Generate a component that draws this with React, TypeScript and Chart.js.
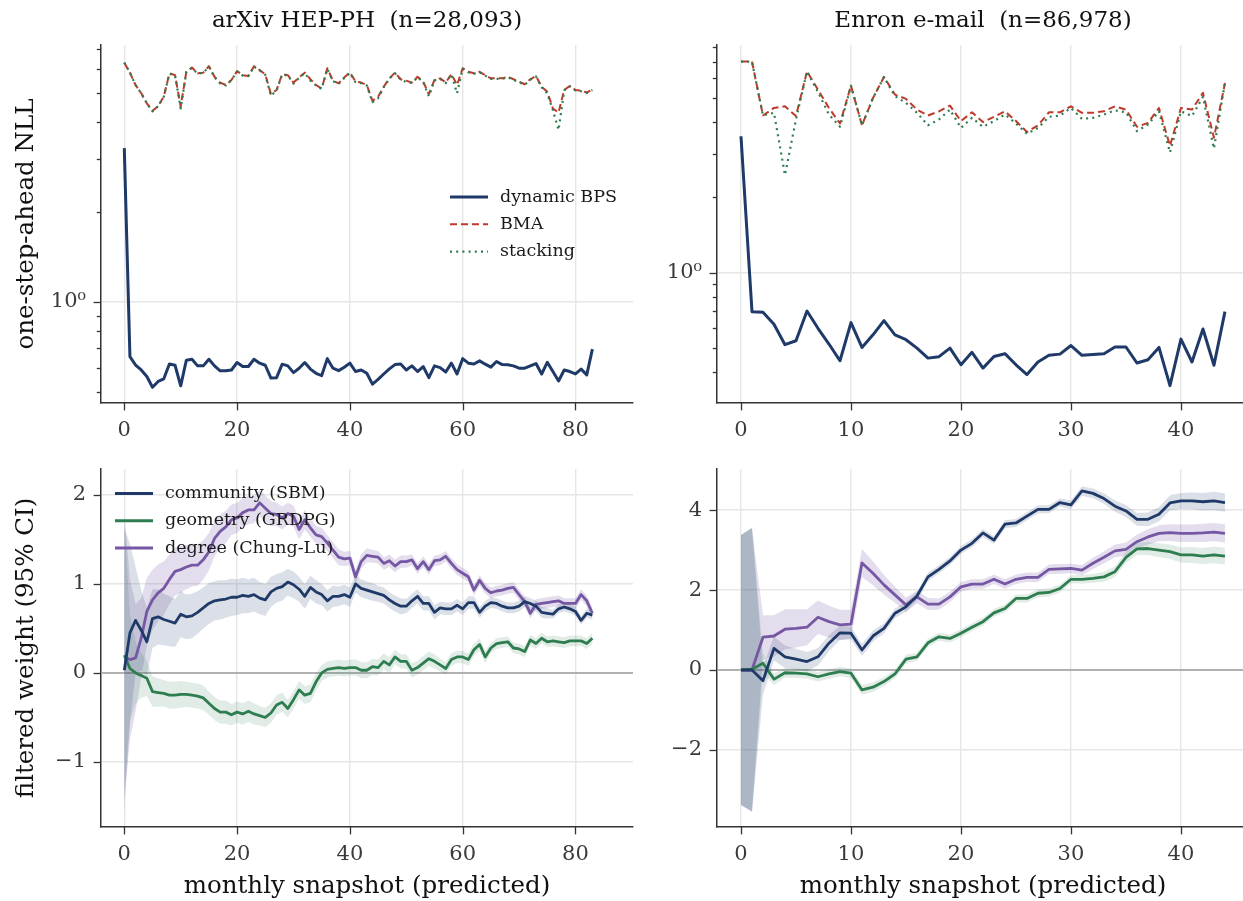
import React, { useEffect, useRef } from 'react';
import { Chart, registerables } from 'chart.js';
Chart.register(...registerables);

const W = 1243;
const H = 901;
const FONT = "'DejaVu Serif', 'Liberation Serif', serif";
const NAVY = '#1f3a68';
const RED = '#c0392b';
const GREEN = '#2e7d50';
const PURPLE = '#7557a3';
const SPINE = '#333333';
const GRID = '#e6e6e6';
const TICK_TEXT = '#3a3a3a';

// ---------------- data ----------------
const arxivBPS = [3.27, 0.656, 0.615, 0.592, 0.563, 0.518, 0.542, 0.553, 0.620, 0.614,
  0.524, 0.638, 0.643, 0.611, 0.611, 0.643, 0.611, 0.588, 0.588, 0.592,
  0.627, 0.608, 0.608, 0.643, 0.624, 0.614, 0.556, 0.558, 0.619, 0.611,
  0.580, 0.600, 0.627, 0.596, 0.577, 0.567, 0.646, 0.600, 0.589, 0.605,
  0.624, 0.585, 0.592, 0.577, 0.531, 0.551, 0.574, 0.597, 0.617, 0.620,
  0.592, 0.611, 0.585, 0.608, 0.558, 0.611, 0.603, 0.583, 0.624, 0.574,
  0.646, 0.624, 0.620, 0.635, 0.619, 0.605, 0.632, 0.617, 0.616, 0.611,
  0.600, 0.600, 0.611, 0.622, 0.574, 0.628, 0.585, 0.544, 0.592, 0.585,
  0.574, 0.596, 0.570, 0.695];
const arxivBMA = [6.32, 5.85, 5.32, 4.99, 4.62, 4.36, 4.52, 4.86, 5.82, 5.74,
  4.50, 5.89, 6.09, 5.82, 5.85, 6.15, 5.67, 5.42, 5.32, 5.53,
  5.92, 5.74, 5.70, 6.15, 5.97, 5.77, 4.96, 5.12, 5.79, 5.74,
  5.42, 5.64, 5.85, 5.56, 5.32, 5.18, 6.05, 5.50, 5.39, 5.64,
  5.86, 5.46, 5.42, 5.32, 4.71, 4.86, 5.25, 5.60, 5.85, 5.56,
  5.50, 5.42, 5.67, 5.46, 4.96, 5.53, 5.60, 5.42, 5.79, 5.32,
  6.05, 5.89, 5.82, 5.89, 5.74, 5.60, 5.60, 5.60, 5.67, 5.56,
  5.46, 5.35, 5.56, 5.70, 5.25, 5.05, 4.44, 4.30, 5.12, 5.28,
  5.12, 5.09, 5.02, 5.14];
const arxivStacking = [6.32, 5.85, 5.32, 4.99, 4.62, 4.34, 4.52, 4.86, 5.80, 5.72,
  4.44, 5.89, 6.07, 5.80, 5.85, 6.13, 5.65, 5.38, 5.30, 5.53,
  5.90, 5.72, 5.70, 6.13, 5.95, 5.75, 4.90, 5.10, 5.77, 5.72,
  5.38, 5.62, 5.83, 5.50, 5.30, 5.16, 6.03, 5.48, 5.37, 5.62,
  5.84, 5.44, 5.40, 5.30, 4.66, 4.80, 5.23, 5.58, 5.83, 5.54,
  5.44, 5.40, 5.65, 5.44, 4.88, 5.51, 5.58, 5.40, 5.77, 4.99,
  6.03, 5.87, 5.80, 5.87, 5.72, 5.58, 5.58, 5.58, 5.65, 5.54,
  5.44, 5.33, 5.54, 5.68, 5.23, 4.98, 4.38, 3.76, 5.10, 5.26,
  5.10, 5.07, 5.00, 5.12];

const enronBPS = [3.52, 0.697, 0.693, 0.621, 0.514, 0.533, 0.701, 0.598, 0.517, 0.443,
  0.630, 0.501, 0.563, 0.642, 0.563, 0.538, 0.498, 0.454, 0.460, 0.498,
  0.427, 0.479, 0.414, 0.461, 0.473, 0.427, 0.390, 0.438, 0.466, 0.471,
  0.510, 0.466, 0.469, 0.473, 0.503, 0.503, 0.434, 0.447, 0.501, 0.352,
  0.541, 0.438, 0.594, 0.425, 0.697];
const enronBMA = [7.01, 7.01, 4.26, 4.57, 4.64, 4.24, 6.40, 5.41, 4.57, 3.96,
  5.61, 3.89, 5.01, 6.08, 5.17, 4.97, 4.50, 4.26, 4.43, 4.67,
  4.05, 4.39, 4.01, 4.21, 4.43, 4.05, 3.66, 3.89, 4.39, 4.39,
  4.64, 4.37, 4.37, 4.43, 4.64, 4.50, 3.84, 3.98, 4.57, 3.22,
  4.57, 4.50, 5.25, 3.47, 5.75];
const enronStacking = [7.01, 7.01, 4.26, 4.37, 2.46, 4.11, 6.40, 5.30, 4.30, 3.84,
  5.61, 3.89, 5.01, 6.08, 5.09, 4.79, 4.37, 3.89, 4.11, 4.50,
  3.80, 4.17, 3.84, 4.05, 4.30, 3.96, 3.60, 3.80, 4.21, 4.26,
  4.57, 4.13, 4.17, 4.30, 4.47, 4.39, 3.69, 3.92, 4.43, 3.03,
  4.43, 4.24, 5.06, 3.14, 5.78];

const arxivCommunity = [0.03, 0.45, 0.59, 0.48, 0.35, 0.61, 0.63, 0.60, 0.58, 0.56,
  0.66, 0.63, 0.64, 0.68, 0.73, 0.78, 0.81, 0.82, 0.83, 0.85,
  0.85, 0.87, 0.86, 0.88, 0.84, 0.82, 0.91, 0.95, 0.97, 1.02,
  0.99, 0.94, 0.86, 0.96, 0.91, 0.88, 0.81, 0.86, 0.86, 0.88,
  0.85, 1.00, 0.95, 0.93, 0.91, 0.89, 0.87, 0.82, 0.78, 0.75,
  0.75, 0.81, 0.86, 0.78, 0.78, 0.68, 0.73, 0.72, 0.72, 0.76,
  0.72, 0.79, 0.79, 0.68, 0.75, 0.79, 0.78, 0.75, 0.73, 0.73,
  0.75, 0.80, 0.78, 0.75, 0.68, 0.67, 0.66, 0.72, 0.74, 0.72,
  0.69, 0.59, 0.67, 0.65];
const arxivGeometry = [0.20, 0.05, 0.00, -0.03, -0.06, -0.21, -0.22, -0.23, -0.25, -0.25,
  -0.24, -0.24, -0.25, -0.26, -0.28, -0.34, -0.40, -0.44, -0.44, -0.47,
  -0.44, -0.46, -0.43, -0.46, -0.48, -0.50, -0.45, -0.36, -0.33, -0.40,
  -0.30, -0.19, -0.25, -0.23, -0.10, 0.00, 0.04, 0.05, 0.06, 0.05,
  0.06, 0.06, 0.03, 0.03, 0.07, 0.06, 0.13, 0.09, 0.18, 0.13,
  0.13, 0.03, 0.06, 0.11, 0.16, 0.13, 0.09, 0.05, 0.15, 0.18,
  0.18, 0.15, 0.26, 0.32, 0.18, 0.28, 0.33, 0.34, 0.35, 0.28,
  0.27, 0.24, 0.37, 0.33, 0.39, 0.35, 0.36, 0.35, 0.34, 0.36,
  0.36, 0.36, 0.33, 0.39];
const arxivDegree = [0.18, 0.15, 0.17, 0.39, 0.69, 0.82, 0.90, 0.95, 1.05, 1.14,
  1.16, 1.19, 1.21, 1.21, 1.27, 1.36, 1.51, 1.59, 1.64, 1.72,
  1.74, 1.80, 1.83, 1.83, 1.91, 1.85, 1.79, 1.78, 1.74, 1.79,
  1.76, 1.61, 1.72, 1.63, 1.55, 1.53, 1.46, 1.38, 1.30, 1.28,
  1.29, 1.08, 1.25, 1.32, 1.31, 1.30, 1.23, 1.26, 1.20, 1.25,
  1.25, 1.27, 1.17, 1.25, 1.16, 1.26, 1.27, 1.31, 1.23, 1.16,
  1.12, 1.08, 0.93, 1.04, 0.95, 0.90, 0.92, 0.93, 0.95, 0.96,
  0.88, 0.80, 0.67, 0.77, 0.78, 0.79, 0.80, 0.81, 0.78, 0.78,
  0.78, 0.88, 0.81, 0.67];

// 95% CI half-widths
const arxivCommunityCI = [1.60, 1.00, 0.60, 0.45, 0.38, 0.33, 0.31, 0.29, 0.28, 0.27,
  0.26, 0.25, 0.25, 0.24, 0.23, 0.23, 0.22, 0.22, 0.21, 0.21,
  0.20, 0.20, 0.19, 0.19, 0.18, 0.18, 0.17, 0.16, 0.16, 0.15,
  0.15, 0.14, 0.14, 0.13, 0.13, 0.12, 0.12, 0.12, 0.11, 0.11,
  0.11, 0.10, 0.10, 0.10, 0.10, 0.09, 0.09, 0.09, 0.09, 0.09,
  0.08, 0.08, 0.08, 0.08, 0.08, 0.08, 0.07, 0.07, 0.07, 0.07,
  0.07, 0.07, 0.07, 0.06, 0.06, 0.06, 0.06, 0.06, 0.06, 0.06,
  0.06, 0.06, 0.06, 0.06, 0.06, 0.06, 0.05, 0.05, 0.05, 0.05,
  0.05, 0.05, 0.05, 0.05];
const arxivGeometryCI = [1.50, 0.60, 0.35, 0.25, 0.20, 0.17, 0.16, 0.15, 0.15, 0.15,
  0.15, 0.14, 0.14, 0.14, 0.14, 0.13, 0.13, 0.13, 0.13, 0.12,
  0.12, 0.12, 0.12, 0.12, 0.11, 0.11, 0.11, 0.11, 0.11, 0.10,
  0.10, 0.10, 0.10, 0.10, 0.10, 0.09, 0.09, 0.09, 0.09, 0.09,
  0.09, 0.09, 0.09, 0.09, 0.09, 0.09, 0.09, 0.09, 0.08, 0.08,
  0.08, 0.08, 0.08, 0.08, 0.08, 0.08, 0.07, 0.07, 0.07, 0.07,
  0.07, 0.07, 0.07, 0.07, 0.07, 0.06, 0.06, 0.06, 0.06, 0.06,
  0.06, 0.06, 0.06, 0.06, 0.06, 0.06, 0.06, 0.06, 0.06, 0.06,
  0.06, 0.06, 0.06, 0.06];
const arxivDegreeCI = [1.60, 0.90, 0.60, 0.45, 0.38, 0.34, 0.32, 0.30, 0.28, 0.27,
  0.26, 0.25, 0.24, 0.23, 0.22, 0.21, 0.20, 0.19, 0.18, 0.17,
  0.17, 0.16, 0.16, 0.15, 0.15, 0.14, 0.14, 0.13, 0.13, 0.12,
  0.12, 0.11, 0.11, 0.10, 0.10, 0.10, 0.09, 0.09, 0.09, 0.08,
  0.08, 0.08, 0.08, 0.08, 0.07, 0.07, 0.07, 0.07, 0.07, 0.07,
  0.07, 0.06, 0.06, 0.06, 0.06, 0.06, 0.06, 0.06, 0.06, 0.06,
  0.06, 0.06, 0.06, 0.06, 0.06, 0.06, 0.06, 0.06, 0.06, 0.06,
  0.06, 0.06, 0.06, 0.06, 0.06, 0.06, 0.06, 0.06, 0.06, 0.06,
  0.06, 0.06, 0.06, 0.06];

const enronCommunity = [0.00, 0.00, -0.27, 0.54, 0.33, 0.27, 0.21, 0.33, 0.67, 0.93,
  0.92, 0.50, 0.85, 1.04, 1.42, 1.58, 1.85, 2.33, 2.52, 2.73,
  3.00, 3.17, 3.43, 3.25, 3.65, 3.68, 3.85, 4.02, 4.02, 4.19,
  4.13, 4.48, 4.42, 4.29, 4.10, 3.98, 3.77, 3.77, 3.90, 4.18,
  4.23, 4.23, 4.21, 4.23, 4.19];
const enronGeometry = [0.00, 0.02, 0.17, -0.23, -0.07, -0.08, -0.10, -0.17, -0.10, -0.04,
  -0.08, -0.50, -0.43, -0.29, -0.10, 0.27, 0.33, 0.68, 0.83, 0.79,
  0.92, 1.07, 1.21, 1.43, 1.54, 1.79, 1.79, 1.92, 1.94, 2.04,
  2.27, 2.27, 2.29, 2.33, 2.46, 2.82, 3.03, 3.04, 3.00, 2.96,
  2.88, 2.88, 2.85, 2.88, 2.85];
const enronDegree = [0.00, 0.00, 0.82, 0.85, 1.02, 1.04, 1.07, 1.32, 1.21, 1.13,
  1.15, 2.68, 2.42, 2.13, 1.88, 1.63, 1.83, 1.65, 1.65, 1.83,
  2.08, 2.15, 2.15, 2.27, 2.15, 2.27, 2.32, 2.32, 2.52, 2.53,
  2.54, 2.50, 2.67, 2.82, 2.98, 3.02, 3.21, 3.33, 3.42, 3.44,
  3.42, 3.42, 3.43, 3.45, 3.42];
const enronCommunityCI = [3.38, 3.55, 0.35, 0.30, 0.28, 0.26, 0.24, 0.22, 0.20, 0.18,
  0.16, 0.15, 0.14, 0.13, 0.12, 0.12, 0.11, 0.11, 0.10, 0.10,
  0.10, 0.10, 0.10, 0.10, 0.10, 0.10, 0.10, 0.10, 0.10, 0.10,
  0.11, 0.12, 0.12, 0.13, 0.14, 0.15, 0.16, 0.17, 0.18, 0.19,
  0.20, 0.21, 0.22, 0.23, 0.23];
const enronGeometryCI = [3.38, 3.55, 0.25, 0.15, 0.12, 0.12, 0.12, 0.12, 0.12, 0.12,
  0.12, 0.12, 0.12, 0.11, 0.11, 0.11, 0.10, 0.10, 0.10, 0.10,
  0.10, 0.10, 0.10, 0.10, 0.10, 0.10, 0.10, 0.10, 0.10, 0.10,
  0.10, 0.11, 0.11, 0.12, 0.13, 0.14, 0.15, 0.16, 0.17, 0.18,
  0.19, 0.20, 0.20, 0.21, 0.21];
const enronDegreeCI = [3.38, 3.55, 0.55, 0.52, 0.50, 0.48, 0.45, 0.42, 0.40, 0.38,
  0.36, 0.35, 0.30, 0.25, 0.20, 0.18, 0.16, 0.15, 0.14, 0.13,
  0.12, 0.12, 0.12, 0.12, 0.12, 0.12, 0.12, 0.12, 0.12, 0.12,
  0.12, 0.13, 0.14, 0.15, 0.16, 0.17, 0.18, 0.19, 0.20, 0.21,
  0.22, 0.22, 0.23, 0.23, 0.23];

// ticks
const arxivXTicks = [0, 20, 40, 60, 80];
const enronXTicks = [0, 10, 20, 30, 40];
const arxivNllTicks = [0.5, 0.6, 0.7, 0.8, 0.9, 1, 2, 3, 4, 5, 6, 7];
const enronNllTicks = [0.4, 0.5, 0.6, 0.7, 0.8, 0.9, 1, 2, 3, 4, 5, 6, 7, 8];
const arxivWeightTicks = [-1, 0, 1, 2];
const enronWeightTicks = [-2, 0, 2, 4];

const titles = ['arXiv HEP-PH  (n=28,093)', 'Enron e-mail  (n=86,978)'];
const nllSeriesNames = ['dynamic BPS', 'BMA', 'stacking'];
const weightSeriesNames = ['community (SBM)', 'geometry (GRDPG)', 'degree (Chung-Lu)'];

// ---------------- helpers ----------------
const pts = (arr: number[]) => arr.map((y, x) => ({ x, y }));

function lineDs(label: string, arr: number[], color: string, width: number, dash: number[], order: number) {
  return {
    label, data: pts(arr), borderColor: color, backgroundColor: color, borderWidth: width,
    borderDash: dash, pointRadius: 0, fill: false, tension: 0, order,
    borderJoinStyle: 'round', borderCapStyle: 'butt',
  };
}
function bandDs(mid: number[], hw: number[], rgba: string, order: number) {
  const lower = mid.map((m, x) => ({ x, y: m - hw[x] }));
  const upper = mid.map((m, x) => ({ x, y: m + hw[x] }));
  return [
    { label: '_lo', data: lower, borderColor: 'rgba(0,0,0,0)', borderWidth: 0, pointRadius: 0, fill: false, order, tension: 0 },
    { label: '_hi', data: upper, borderColor: 'rgba(0,0,0,0)', borderWidth: 0, pointRadius: 0, fill: '-1', backgroundColor: rgba, order, tension: 0 },
  ];
}

type LegendItem = { label: string; color: string; width: number; dash: number[] };
type Spec = {
  area: { left: number; top: number; right: number; bottom: number };
  xMin: number; xMax: number; xTicks: number[];
  yLog: boolean; yMin: number; yMax: number; yTicks: number[];
  yMajor: (v: number) => boolean; yLabel: (v: number) => string;
  datasets: any[];
  title?: string; xTitle?: string; yTitle?: string; centerX: number;
  legend?: { x: number; y: number; items: LegendItem[] };
  zeroLine?: boolean;
};

const YW = 60;
const XH = 40;

function makeDecor(s: Spec) {
  return {
    id: 'decor',
    beforeDatasetsDraw(chart: any) {
      if (!s.zeroLine) return;
      const { ctx, chartArea: a, scales } = chart;
      const y = scales.y.getPixelForValue(0);
      ctx.save();
      ctx.strokeStyle = '#9e9e9e';
      ctx.lineWidth = 1.4;
      ctx.beginPath();
      ctx.moveTo(a.left, y);
      ctx.lineTo(a.right, y);
      ctx.stroke();
      ctx.restore();
    },
    afterDraw(chart: any) {
      const { ctx, chartArea: a, scales } = chart;
      ctx.save();
      ctx.strokeStyle = SPINE;
      ctx.lineWidth = 1.3;
      for (const v of s.xTicks) {
        const x = Math.round(scales.x.getPixelForValue(v)) + 0.5;
        ctx.beginPath(); ctx.moveTo(x, a.bottom); ctx.lineTo(x, a.bottom + 7.4); ctx.stroke();
      }
      for (const v of s.yTicks) {
        const y = Math.round(scales.y.getPixelForValue(v)) + 0.5;
        const len = s.yMajor(v) ? 7.4 : 4.2;
        ctx.beginPath(); ctx.moveTo(a.left - len, y); ctx.lineTo(a.left, y); ctx.stroke();
      }
      ctx.fillStyle = '#111';
      ctx.textAlign = 'center';
      ctx.textBaseline = 'middle';
      if (s.title) {
        ctx.font = `23px ${FONT}`;
        ctx.fillText(s.title, s.centerX, 21);
      }
      if (s.xTitle) {
        ctx.font = `24.5px ${FONT}`;
        ctx.fillText(s.xTitle, s.centerX, 887);
      }
      if (s.yTitle) {
        ctx.save();
        ctx.font = `24.5px ${FONT}`;
        ctx.translate(27, (a.top + a.bottom) / 2);
        ctx.rotate(-Math.PI / 2);
        ctx.fillText(s.yTitle, 0, 0);
        ctx.restore();
      }
      if (s.legend) {
        const { x, y, items } = s.legend;
        items.forEach((it, i) => {
          const yy = y + i * 27.3;
          ctx.save();
          ctx.strokeStyle = it.color;
          ctx.lineWidth = it.width;
          ctx.setLineDash(it.dash);
          ctx.beginPath(); ctx.moveTo(x, yy); ctx.lineTo(x + 38, yy); ctx.stroke();
          ctx.restore();
          ctx.font = `17.5px ${FONT}`;
          ctx.textAlign = 'left';
          ctx.fillStyle = '#1a1a1a';
          ctx.fillText(it.label, x + 50, yy);
        });
      }
      ctx.restore();
    },
  };
}

function buildConfig(s: Spec): any {
  const a = s.area;
  return {
    type: 'line',
    data: { datasets: s.datasets },
    plugins: [makeDecor(s)],
    options: {
      responsive: false,
      maintainAspectRatio: false,
      animation: false,
      devicePixelRatio: 1,
      events: [],
      layout: { padding: { left: a.left - YW, top: a.top, right: W - a.right, bottom: H - a.bottom - XH } },
      plugins: { legend: { display: false }, tooltip: { enabled: false }, title: { display: false } },
      scales: {
        x: {
          type: 'linear', min: s.xMin, max: s.xMax,
          afterBuildTicks: (sc: any) => { sc.ticks = s.xTicks.map((v) => ({ value: v })); },
          afterFit: (sc: any) => { sc.height = XH; },
          grid: { color: GRID, lineWidth: 1.4, drawTicks: false },
          border: { display: true, color: SPINE, width: 1.5 },
          ticks: { padding: 15, color: TICK_TEXT, font: { family: FONT, size: 21 }, maxRotation: 0, autoSkip: false, callback: (v: number) => String(v) },
        },
        y: {
          type: s.yLog ? 'logarithmic' : 'linear', min: s.yMin, max: s.yMax,
          afterBuildTicks: (sc: any) => { sc.ticks = s.yTicks.map((v) => ({ value: v })); },
          afterFit: (sc: any) => { sc.width = YW; },
          grid: {
            color: (ctx: any) => (ctx.tick && s.yMajor(ctx.tick.value) ? GRID : 'rgba(0,0,0,0)'),
            lineWidth: 1.4, drawTicks: false,
          },
          border: { display: true, color: SPINE, width: 1.5 },
          ticks: { padding: 15, color: TICK_TEXT, font: { family: FONT, size: 21 }, autoSkip: false, callback: (v: number) => s.yLabel(v) },
        },
      },
    },
  };
}

const nllLabel = (v: number) => (v === 1 ? '10\u2070' : '');
const nllMajor = (v: number) => v === 1;
const linLabel = (v: number) => (v < 0 ? '\u2212' + Math.abs(v) : String(v));
const allMajor = () => true;

const nllLegend: LegendItem[] = [
  { label: nllSeriesNames[0], color: NAVY, width: 3.2, dash: [] },
  { label: nllSeriesNames[1], color: RED, width: 2, dash: [7, 4] },
  { label: nllSeriesNames[2], color: GREEN, width: 2.2, dash: [2, 4.2] },
];
const weightLegend: LegendItem[] = [
  { label: weightSeriesNames[0], color: NAVY, width: 3, dash: [] },
  { label: weightSeriesNames[1], color: GREEN, width: 3, dash: [] },
  { label: weightSeriesNames[2], color: PURPLE, width: 3, dash: [] },
];

function nllDatasets(bps: number[], bma: number[], st: number[]) {
  return [
    lineDs(nllSeriesNames[2], st, GREEN, 2.2, [2, 4.2], 1),
    lineDs(nllSeriesNames[1], bma, RED, 2, [7, 4], 2),
    lineDs(nllSeriesNames[0], bps, NAVY, 3, [], 3),
  ];
}
function weightDatasets(c: number[], cci: number[], g: number[], gci: number[], d: number[], dci: number[]) {
  return [
    ...bandDs(c, cci, 'rgba(31,58,104,0.16)', 20),
    ...bandDs(g, gci, 'rgba(46,125,80,0.15)', 21),
    ...bandDs(d, dci, 'rgba(117,87,163,0.2)', 22),
    lineDs(weightSeriesNames[2], d, PURPLE, 2.8, [], 3),
    lineDs(weightSeriesNames[1], g, GREEN, 2.8, [], 2),
    lineDs(weightSeriesNames[0], c, NAVY, 2.8, [], 1),
  ];
}

const specs: Spec[] = [
  {
    area: { left: 101, top: 45, right: 633, bottom: 403 },
    xMin: -4.13, xMax: 90.2, xTicks: arxivXTicks,
    yLog: true, yMin: 0.459, yMax: 7.24, yTicks: arxivNllTicks, yMajor: nllMajor, yLabel: nllLabel,
    datasets: nllDatasets(arxivBPS, arxivBMA, arxivStacking),
    title: titles[0], yTitle: 'one-step-ahead NLL', centerX: 367,
    legend: { x: 450, y: 197, items: nllLegend },
  },
  {
    area: { left: 717, top: 45, right: 1243, bottom: 403 },
    xMin: -2.18, xMax: 45.64, xTicks: enronXTicks,
    yLog: true, yMin: 0.306, yMax: 8.17, yTicks: enronNllTicks, yMajor: nllMajor, yLabel: nllLabel,
    datasets: nllDatasets(enronBPS, enronBMA, enronStacking),
    title: titles[1], centerX: 983,
  },
  {
    area: { left: 101, top: 469, right: 633, bottom: 827 },
    xMin: -4.13, xMax: 90.2, xTicks: arxivXTicks,
    yLog: false, yMin: -1.73, yMax: 2.29, yTicks: arxivWeightTicks, yMajor: allMajor, yLabel: linLabel,
    datasets: weightDatasets(arxivCommunity, arxivCommunityCI, arxivGeometry, arxivGeometryCI, arxivDegree, arxivDegreeCI),
    xTitle: 'monthly snapshot (predicted)', yTitle: 'filtered weight (95% CI)', centerX: 367,
    legend: { x: 115, y: 493.5, items: weightLegend }, zeroLine: true,
  },
  {
    area: { left: 717, top: 469, right: 1243, bottom: 827 },
    xMin: -2.18, xMax: 45.64, xTicks: enronXTicks,
    yLog: false, yMin: -3.93, yMax: 5.03, yTicks: enronWeightTicks, yMajor: allMajor, yLabel: linLabel,
    datasets: weightDatasets(enronCommunity, enronCommunityCI, enronGeometry, enronGeometryCI, enronDegree, enronDegreeCI),
    xTitle: 'monthly snapshot (predicted)', centerX: 983, zeroLine: true,
  },
];

function Panel({ spec }: { spec: Spec }) {
  const ref = useRef<HTMLCanvasElement>(null);
  useEffect(() => {
    if (!ref.current) return;
    const chart = new Chart(ref.current, buildConfig(spec));
    return () => chart.destroy();
  }, [spec]);
  return (
    <canvas
      ref={ref}
      width={W}
      height={H}
      style={{ position: 'absolute', left: 0, top: 0, width: W, height: H, display: 'block' }}
    />
  );
}

export default function App() {
  return (
    <div style={{ position: 'fixed', left: 0, top: 0, width: W, height: H, background: '#fff', overflow: 'hidden' }}>
      {specs.map((s, i) => (
        <Panel key={i} spec={s} />
      ))}
    </div>
  );
}
